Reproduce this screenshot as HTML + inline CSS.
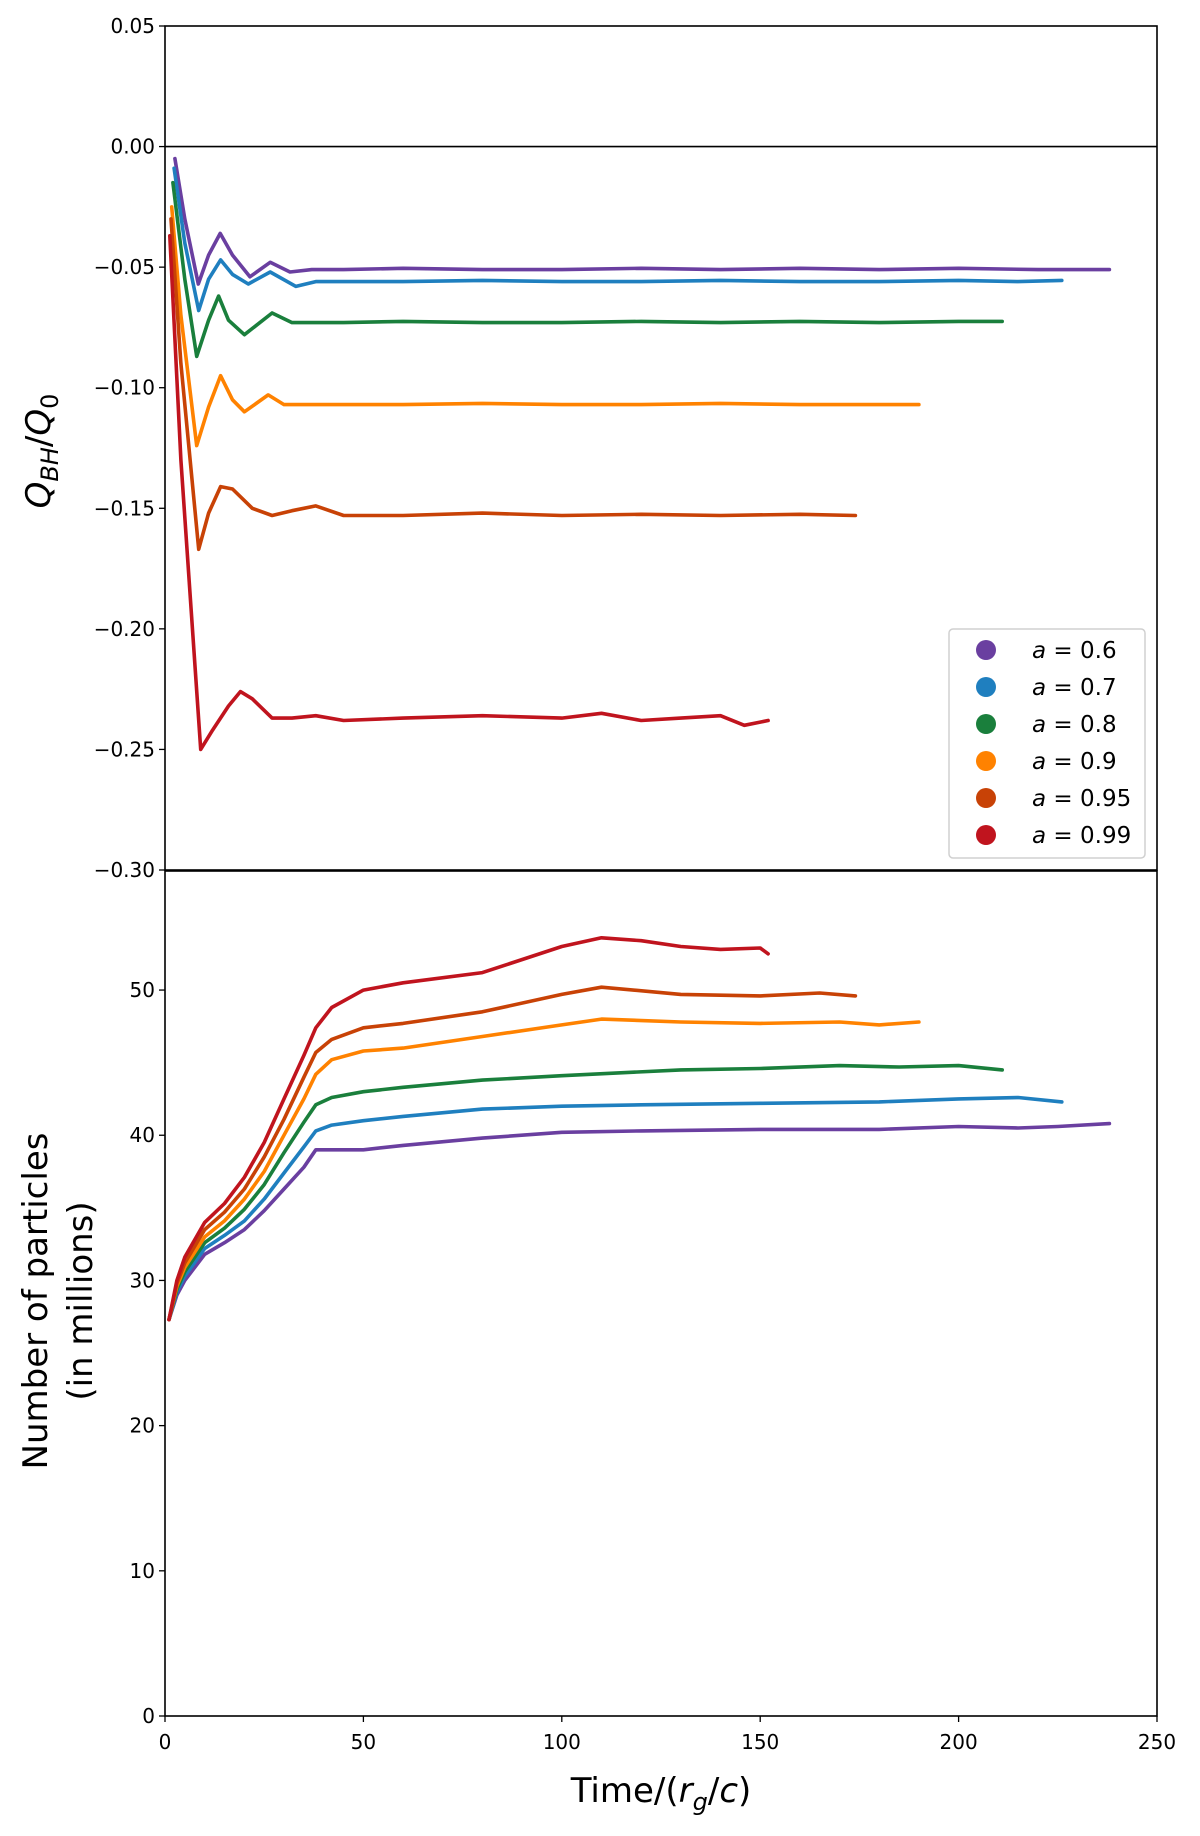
<!DOCTYPE html>
<html><head><meta charset="utf-8">
<style>
html,body{margin:0;padding:0;background:#fff;}
svg{display:block;font-family:"DejaVu Sans","Liberation Sans",sans-serif;}
</style></head>
<body>
<svg id="chart" width="1200" height="1836" viewBox="0 0 1200 1836" xmlns="http://www.w3.org/2000/svg"></svg>
<script>
const spins = ["0.6","0.7","0.8","0.9","0.95","0.99"];
const colors = ["#6a3fa0","#1f7fbf","#1a7f3c","#ff8200","#c84206","#c0141e"];
const qTimes = [
 [2.5,5,8.4,11,13.9,17,21.4,26.5,31.5,37,45,60,80,100,120,140,160,180,200,220,238],
 [2.3,5,8.5,11,14,17,21,26.5,33,38,45,60,80,100,120,140,160,180,200,215,226],
 [2,5,8,11,13.5,16,20,27,32,38,45,60,80,100,120,140,160,180,200,211],
 [1.7,4,8,11,14,17,20,26,30,36,45,60,80,100,120,140,160,175,190],
 [1.5,4,8.5,11,14,17,22,27,32,38,45,60,80,100,120,140,160,174],
 [1.2,4,9,12,16,19,22,27,32,38,45,60,80,100,110,120,130,140,146,152]
];
const qValues = [
 [-0.005,-0.03,-0.057,-0.045,-0.036,-0.045,-0.054,-0.048,-0.052,-0.051,-0.051,-0.0505,-0.051,-0.051,-0.0505,-0.051,-0.0505,-0.051,-0.0505,-0.051,-0.051],
 [-0.009,-0.04,-0.068,-0.055,-0.047,-0.053,-0.057,-0.052,-0.058,-0.056,-0.056,-0.056,-0.0555,-0.056,-0.056,-0.0555,-0.056,-0.056,-0.0555,-0.056,-0.0555],
 [-0.015,-0.055,-0.087,-0.072,-0.062,-0.072,-0.078,-0.069,-0.073,-0.073,-0.073,-0.0725,-0.073,-0.073,-0.0725,-0.073,-0.0725,-0.073,-0.0725,-0.0725],
 [-0.025,-0.07,-0.124,-0.108,-0.095,-0.105,-0.110,-0.103,-0.107,-0.107,-0.107,-0.107,-0.1065,-0.107,-0.107,-0.1065,-0.107,-0.107,-0.107],
 [-0.03,-0.09,-0.167,-0.152,-0.141,-0.142,-0.150,-0.153,-0.151,-0.149,-0.153,-0.153,-0.152,-0.153,-0.1525,-0.153,-0.1525,-0.153],
 [-0.037,-0.13,-0.25,-0.242,-0.232,-0.226,-0.229,-0.237,-0.237,-0.236,-0.238,-0.237,-0.236,-0.237,-0.235,-0.238,-0.237,-0.236,-0.240,-0.238]
];
const nTimes = [
 [1,3,5,10,15,20,25,30,35,38,42,50,60,80,100,120,150,180,200,215,225,238],
 [1,3,5,10,15,20,25,30,35,38,42,50,60,80,100,120,150,180,200,215,226],
 [1,3,5,10,15,20,25,30,35,38,42,50,60,80,100,130,150,170,185,200,211],
 [1,3,5,10,15,20,25,30,35,38,42,50,60,80,100,110,130,150,170,180,190],
 [1,3,5,10,15,20,25,30,35,38,42,50,60,80,100,110,130,150,165,174],
 [1,3,5,10,15,20,25,30,35,38,42,50,60,80,100,110,120,130,140,150,152]
];
const nValues = [
 [27.3,29,30,31.8,32.6,33.5,34.8,36.3,37.8,39,39,39,39.3,39.8,40.2,40.3,40.4,40.4,40.6,40.5,40.6,40.8],
 [27.3,29.2,30.3,32.2,33.1,34.1,35.6,37.4,39.2,40.3,40.7,41,41.3,41.8,42,42.1,42.2,42.3,42.5,42.6,42.3],
 [27.3,29.4,30.6,32.6,33.6,34.9,36.6,38.8,40.9,42.1,42.6,43,43.3,43.8,44.1,44.5,44.6,44.8,44.7,44.8,44.5],
 [27.3,29.6,30.9,33,34.1,35.6,37.5,40,42.5,44.2,45.2,45.8,46,46.8,47.6,48,47.8,47.7,47.8,47.6,47.8],
 [27.3,29.8,31.2,33.5,34.7,36.3,38.5,41.1,44,45.7,46.6,47.4,47.7,48.5,49.7,50.2,49.7,49.6,49.8,49.6],
 [27.3,30,31.6,34,35.3,37.1,39.5,42.5,45.5,47.4,48.8,50,50.5,51.2,53,53.6,53.4,53,52.8,52.9,52.5]
];
const xTicks = [0,50,100,150,200,250];
const qTicks = [0.05,0.00,-0.05,-0.10,-0.15,-0.20,-0.25,-0.30];
const qTickLabels = ["0.05","0.00","\u22120.05","\u22120.10","\u22120.15","\u22120.20","\u22120.25","\u22120.30"];
const nTicks = [0,10,20,30,40,50];

const NS="http://www.w3.org/2000/svg";
const svg=document.getElementById('chart');
const L=165,R=1157,T1=26,B1=870,T2=871,B2=1716;
const xS=t=>L+(t-0)/(250-0)*(R-L);
const yQ=v=>T1+(0.05-v)/(0.35)*(B1-T1);
const yN=v=>B2-v/58.2*(B2-T2);
function mk(tag,attrs,parent){const e=document.createElementNS(NS,tag);for(const k in attrs)e.setAttribute(k,attrs[k]);(parent||svg).appendChild(e);return e;}

const f1=mk('rect',{x:L,y:T1,width:R-L,height:B1-T1,fill:'none',stroke:'#000','stroke-width':1.6});


const f2=mk('rect',{x:L,y:T2,width:R-L,height:B2-T2,fill:'none',stroke:'#000','stroke-width':1.6});


const zl=mk('line',{x1:L,x2:R,y1:yQ(0),y2:yQ(0),stroke:'#000','stroke-width':1.6});



qTicks.forEach((v,i)=>{
  const y=yQ(v);
  mk('line',{x1:L-6,x2:L,y1:y,y2:y,stroke:'#000','stroke-width':1.3});
  const t=mk('text',{x:L-10,y:y+7,'text-anchor':'end','font-size':20});
  t.textContent=qTickLabels[i];
  
  
});
nTicks.forEach(v=>{
  const y=yN(v);
  mk('line',{x1:L-6,x2:L,y1:y,y2:y,stroke:'#000','stroke-width':1.3});
  const t=mk('text',{x:L-10,y:y+7,'text-anchor':'end','font-size':20});
  t.textContent=String(v);
  
  
});
xTicks.forEach(v=>{
  const x=xS(v);
  mk('line',{x1:x,x2:x,y1:B2,y2:B2+6,stroke:'#000','stroke-width':1.3});
  const t=mk('text',{x:x,y:B2+33,'text-anchor':'middle','font-size':20});
  t.textContent=String(v);
  
  
});

function path(ts,vs,yf){return ts.map((t,i)=>(i?'L':'M')+xS(t).toFixed(1)+','+yf(vs[i]).toFixed(1)).join(' ');}
spins.forEach((s,i)=>{
  const p=mk('path',{d:path(qTimes[i],qValues[i],yQ),fill:'none',stroke:colors[i],'stroke-width':3.6,'stroke-linejoin':'round','stroke-linecap':'round'});
  
  
  const p2=mk('path',{d:path(nTimes[i],nValues[i],yN),fill:'none',stroke:colors[i],'stroke-width':3.6,'stroke-linejoin':'round','stroke-linecap':'round'});
  
  
});

const lg=mk('g',{});


mk('rect',{x:949,y:629,width:196,height:229,rx:4,fill:'#fff',stroke:'#d0d0d0','stroke-width':1.5},lg);
spins.forEach((s,i)=>{
  const y=650+i*37;
  const c=mk('circle',{cx:986,cy:y,r:10,fill:colors[i]},lg);
  
  
  const t=mk('text',{x:1032,y:y+8,'font-size':23},lg);
  t.innerHTML='<tspan font-style="italic">a</tspan> = '+s;
  
  
});

const yt=mk('text',{x:0,y:0,'font-size':34,'text-anchor':'middle',transform:'translate(50,451) rotate(-90)'});
yt.innerHTML='<tspan font-style="italic">Q</tspan><tspan font-style="italic" font-size="24" dy="8">BH</tspan><tspan dy="-8">/</tspan><tspan font-style="italic">Q</tspan><tspan font-size="24" dy="8">0</tspan>';


const yb=mk('text',{x:0,y:0,'font-size':34,'text-anchor':'middle',transform:'translate(47,1301) rotate(-90)'});
yb.textContent='Number of particles';


const yb2=mk('text',{x:0,y:0,'font-size':34,'text-anchor':'middle',transform:'translate(92,1301) rotate(-90)'});
yb2.textContent='(in millions)';


const xt=mk('text',{x:661,y:1802,'font-size':34,'text-anchor':'middle'});
xt.innerHTML='Time/(<tspan font-style="italic">r</tspan><tspan font-style="italic" font-size="24" dy="8">g</tspan><tspan dy="-8">/</tspan><tspan font-style="italic">c</tspan>)';


</script>
</body></html>
